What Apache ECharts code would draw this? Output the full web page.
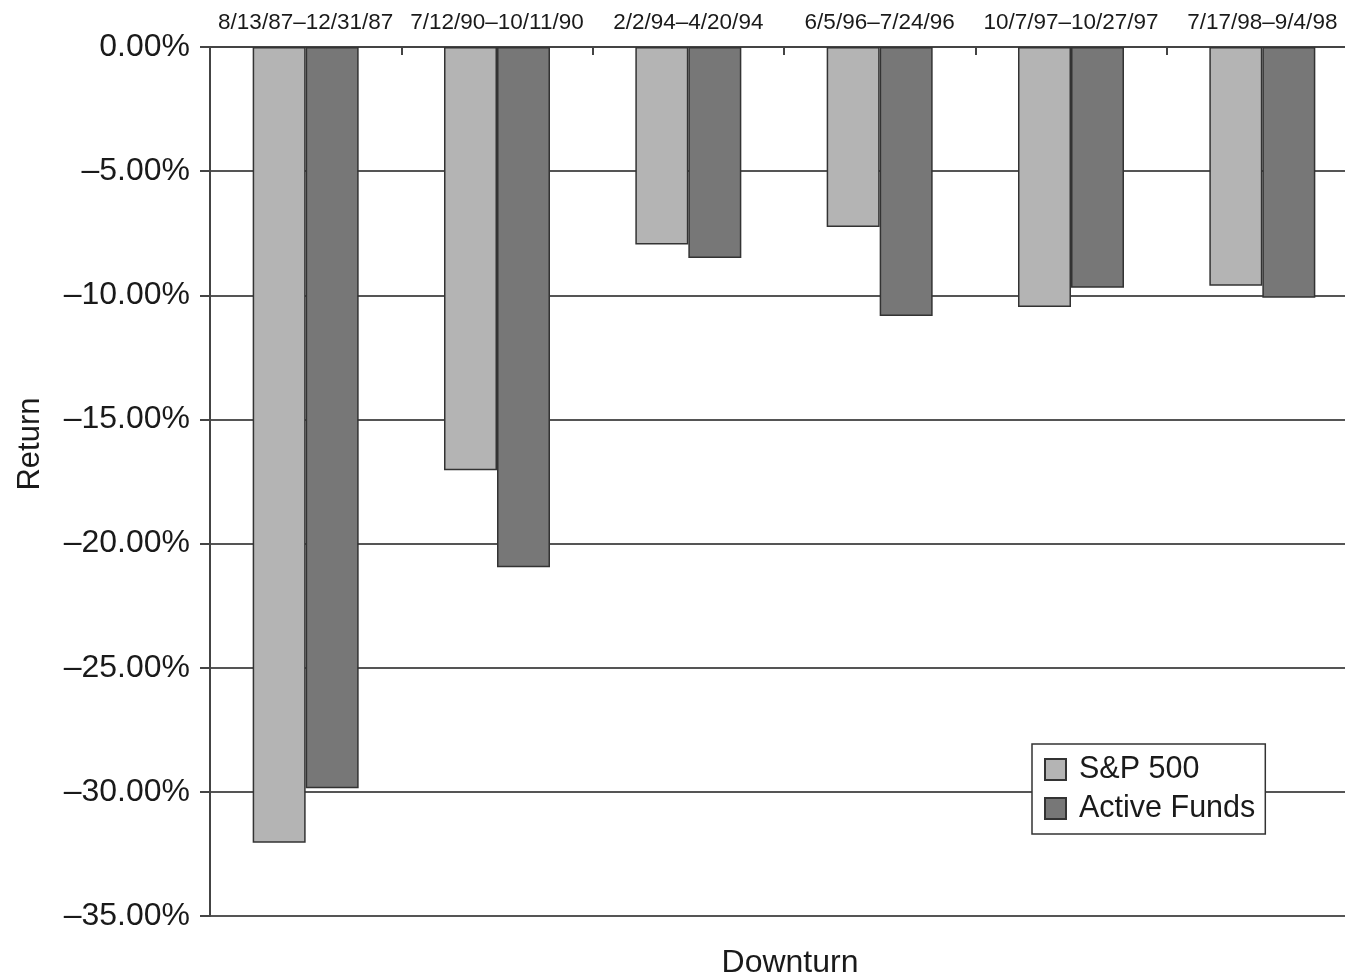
<!DOCTYPE html>
<html>
<head>
<meta charset="utf-8">
<script src="https://cdn.jsdelivr.net/npm/echarts@6/dist/echarts.min.js"></script>
<style>html,body{margin:0;padding:0;background:#fff}#c{width:1345px;height:980px}</style>
</head>
<body>
<div id="c"></div>
<script>
const categories = ['8/13/87–12/31/87','7/12/90–10/11/90','2/2/94–4/20/94','6/5/96–7/24/96','10/7/97–10/27/97','7/17/98–9/4/98'];
const sp500 = [-32.05, -17.05, -7.95, -7.25, -10.47, -9.62];
const activeFunds = [-29.85, -20.95, -8.5, -10.83, -9.7, -10.1];
const yTicks = {min: -35, max: 0, interval: 5};

const FONT = '"Liberation Sans", Arial, Helvetica, sans-serif';
const chart = echarts.init(document.getElementById('c'), null, {renderer: 'canvas'});
chart.setOption({
  animation: false,
  backgroundColor: '#fff',
  textStyle: {fontFamily: FONT},
  grid: {left: 210, top: 47, width: 1148, height: 869, containLabel: false, outerBoundsMode: 'none'},
  legend: {
    orient: 'vertical', left: 1032, top: 744,
    padding: [10, 10, 10, 12], itemGap: 8,
    itemWidth: 21, itemHeight: 21, icon: 'rect',
    backgroundColor: '#fff', borderColor: '#333', borderWidth: 1.5,
    textStyle: {fontSize: 30.5, color: '#1a1a1a', fontFamily: FONT, padding: [0, 0, 0, 8]},
    data: ['S&P 500', 'Active Funds']
  },
  xAxis: [{
    type: 'category', position: 'top', data: categories,
    axisLine: {show: true, lineStyle: {color: '#444', width: 2}},
    axisTick: {show: true, inside: true, length: 8, alignWithLabel: false, lineStyle: {color: '#444', width: 2}},
    axisLabel: {fontSize: 22.5, color: '#1a1a1a', margin: 13, interval: 0, fontFamily: FONT},
    splitLine: {show: false}
  }, {
    type: 'category', position: 'bottom', data: categories,
    axisLine: {show: false}, axisTick: {show: false}, axisLabel: {show: false},
    name: 'Downturn', nameLocation: 'middle', nameGap: 31,
    nameTextStyle: {fontSize: 32, color: '#1a1a1a', fontFamily: FONT, padding: [0, 0, 0, 12]}
  }],
  yAxis: {
    type: 'value', min: yTicks.min, max: yTicks.max, interval: yTicks.interval,
    axisLine: {show: true, lineStyle: {color: '#444', width: 2}},
    axisTick: {show: true, length: 10, lineStyle: {color: '#444', width: 2}},
    axisLabel: {fontSize: 32, color: '#1a1a1a', margin: 20, fontFamily: FONT,
      formatter: v => (v < 0 ? '–' : '') + Math.abs(v).toFixed(2) + '%'},
    splitLine: {show: true, lineStyle: {color: '#555', width: 2}},
    name: 'Return', nameLocation: 'middle', nameGap: 164, nameRotate: 90,
    nameTextStyle: {fontSize: 31, color: '#1a1a1a', fontFamily: FONT, padding: [0, 0, 0, 75]}
  },
  series: [{
    name: 'S&P 500', type: 'bar', data: sp500, barWidth: 53, barGap: '0%',
    itemStyle: {color: '#b4b4b4', borderColor: '#333', borderWidth: 1.5}
  }, {
    name: 'Active Funds', type: 'bar', data: activeFunds, barWidth: 53,
    itemStyle: {color: '#777777', borderColor: '#333', borderWidth: 1.5}
  }]
});
</script>
</body>
</html>
